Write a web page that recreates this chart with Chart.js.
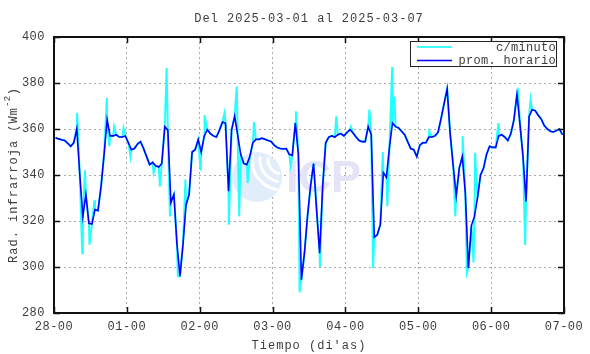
<!DOCTYPE html>
<html>
<head>
<meta charset="utf-8">
<title>Rad. infrarroja</title>
<script src="https://cdn.jsdelivr.net/npm/chart.js@4/dist/chart.umd.min.js"></script>
<style>
  body { margin: 0; background: #fff; }
  canvas { display: block; }
</style>
</head>
<body>
<canvas id="irChart" width="590" height="354"></canvas>
<script>
// hourly means (prom. horario), one per hour, plotted at the middle of the hour
const hourly = [
  356.2, 355.7, 355.3, 355, 353.8, 352.5, 354, 360, 340, 322, 331.5, 319,
  318.7, 325, 324.5, 335, 349, 364, 357, 357, 357.5, 356.5, 356.5, 357,
  354, 351, 351.5, 353.5, 354.5, 351.5, 348, 344.5, 345.5, 344, 343.5, 345,
  361, 359.5, 328, 331.5, 310, 296, 310, 327, 331.5, 350, 351, 355.4,
  350, 357, 359.7, 358, 357, 356.5, 359.5, 363, 362.5, 333, 359.5, 365.5,
  357.5, 349, 345, 344.5, 348, 354, 355.5, 355.5, 356, 355.5, 355, 354.6,
  353, 352, 351.5, 351.3, 351.5, 349, 348.5, 362.6, 349, 294.5, 306, 322,
  335, 345, 325, 306, 335, 354, 356.5, 357, 356.5, 357.5, 358, 357,
  358.5, 359.7, 358.3, 356.5, 355, 354.5, 354.5, 361, 357.5, 313, 314, 318.5,
  341, 339, 352, 362.6, 361, 360.5, 359, 357.5, 354.5, 351.5, 351, 348,
  353, 354, 354, 356.5, 356.5, 357, 358.5, 364.5, 371, 377.4, 358, 344,
  331, 343, 348, 332, 299.6, 318, 322, 330, 340, 343, 349, 352.5,
  352, 352, 357, 357.5, 356.5, 355, 358, 364, 375, 362, 348, 328.5,
  365.5, 368.4, 368, 366, 364.3, 361.5, 360, 359, 358.7, 359.3, 360, 357.5
];

// minute readings that stand out from the hourly curve (hours since 28-00)
const spikeHours = [
  7.6, 9.3, 10.2, 11.7, 13.3, 17.4, 18.2, 19.8, 22.9, 25.2, 32.8, 34.9,
  37.1, 38.2, 40.8, 43.3, 48.3, 49.6, 56.2, 57.6, 60.2, 61, 63.8, 65.9,
  78, 79.7, 80.9, 87.6, 93, 97.8, 103.9, 105.1, 108.3, 109.8, 111.4, 112.2,
  123.6, 132.2, 134.6, 136, 138.2, 138.7, 146.4, 152.9, 155.2, 157
];
const spikeValues = [
  367, 306, 342, 309.7, 329, 373.5, 352.5, 361, 360.5, 348, 341, 335,
  386.5, 322, 296, 338, 342, 366, 367, 318.4, 378.5, 322, 336.5, 363,
  344, 367.7, 289, 300, 365.5, 361, 368.4, 299.6, 350, 326.4, 387, 374,
  359, 322, 357, 297.4, 302, 349.6, 362.6, 376.4, 309.6, 372.8
];

const dayLabels = ['28-00', '01-00', '02-00', '03-00', '04-00', '05-00', '06-00', '07-00'];
const yTicks = [280, 300, 320, 340, 360, 380, 400];

const MONO = "'Liberation Mono', 'DejaVu Sans Mono', monospace";
const TEXT = '#3c3c3c';

const hourlyPts = hourly.map((v, i) => ({ x: i + 0.5, y: v }));
const minutePts = hourlyPts
  .concat(spikeHours.map((h, i) => ({ x: h, y: spikeValues[i] })))
  .sort((a, b) => a.x - b.x);

// gnuplot-like frame, inner ticks, titles, legend and the faint logo
const decorations = {
  id: 'decorations',
  beforeDraw(chart) {
    chart.ctx.letterSpacing = '0.5px';
  },
  beforeDatasetsDraw(chart) {
    const ctx = chart.ctx;
    ctx.save();
    // watermark
    ctx.fillStyle = '#e2edfb';
    ctx.beginPath();
    ctx.arc(257, 177, 25, 0, Math.PI * 2);
    ctx.fill();
    ctx.strokeStyle = '#ffffff';
    ctx.lineWidth = 3;
    [14, 22, 30].forEach(r => {
      ctx.beginPath();
      ctx.arc(282, 160, r, Math.PI * 0.55, Math.PI * 1.05);
      ctx.stroke();
    });
    ctx.fillStyle = '#e4e4f6';
    ctx.font = "bold 45px 'Liberation Sans', sans-serif";
    ctx.letterSpacing = '0px';
    ctx.textBaseline = 'alphabetic';
    ctx.fillText('ICP', 286, 192);
    ctx.restore();
  },
  afterDatasetsDraw(chart) {
    const ctx = chart.ctx;
    const a = chart.chartArea;
    const xs = chart.scales.x, ys = chart.scales.y;
    ctx.save();
    ctx.strokeStyle = '#111';
    ctx.lineWidth = 1.5;
    ctx.beginPath();
    yTicks.forEach(v => {
      const y = Math.round(ys.getPixelForValue(v)) + 0.5;
      ctx.moveTo(a.left, y); ctx.lineTo(a.left + 6, y);
      ctx.moveTo(a.right, y); ctx.lineTo(a.right - 6, y);
    });
    dayLabels.forEach((d, i) => {
      const x = Math.round(xs.getPixelForValue(i * 24)) + 0.5;
      ctx.moveTo(x, a.top); ctx.lineTo(x, a.top + 6);
      ctx.moveTo(x, a.bottom); ctx.lineTo(x, a.bottom - 6);
    });
    ctx.stroke();
    ctx.lineWidth = 2;
    ctx.strokeRect(a.left, a.top, a.right - a.left, a.bottom - a.top);

    // titles
    ctx.fillStyle = TEXT;
    ctx.font = '12px ' + MONO;
    ctx.letterSpacing = '1px';
    ctx.textAlign = 'center';
    ctx.textBaseline = 'middle';
    const cx = (a.left + a.right) / 2;
    ctx.fillText('Del 2025-03-01 al 2025-03-07', cx, 19);
    ctx.fillText("Tiempo (di'as)", cx, 346);

    // y title with superscript
    ctx.save();
    ctx.translate(14, (a.top + a.bottom) / 2);
    ctx.rotate(-Math.PI / 2);
    const main = 'Rad. infrarroja (Wm';
    ctx.font = '12px ' + MONO;
    const w1 = ctx.measureText(main).width;
    ctx.font = '9px ' + MONO;
    ctx.letterSpacing = '0.5px';
    const w2 = ctx.measureText('-2').width;
    ctx.font = '12px ' + MONO;
    ctx.letterSpacing = '1px';
    const w3 = ctx.measureText(')').width;
    let x0 = -(w1 + w2 + w3) / 2;
    ctx.textAlign = 'left';
    ctx.fillText(main, x0, 0);
    ctx.font = '9px ' + MONO;
    ctx.letterSpacing = '0.5px';
    ctx.fillText('-2', x0 + w1, -6);
    ctx.font = '12px ' + MONO;
    ctx.letterSpacing = '1px';
    ctx.fillText(')', x0 + w1 + w2, 0);
    ctx.restore();

    // legend
    ctx.fillStyle = '#fff';
    ctx.fillRect(410, 41, 146, 25);
    ctx.strokeStyle = '#222';
    ctx.lineWidth = 1;
    ctx.strokeRect(410.5, 41.5, 146, 25);
    ctx.strokeStyle = '#00ffff';
    ctx.lineWidth = 1.5;
    ctx.beginPath(); ctx.moveTo(417, 47); ctx.lineTo(452, 47); ctx.stroke();
    ctx.strokeStyle = '#0000ff';
    ctx.lineWidth = 1.5;
    ctx.beginPath(); ctx.moveTo(417, 60.5); ctx.lineTo(452, 60.5); ctx.stroke();
    ctx.fillStyle = TEXT;
    ctx.font = '12px ' + MONO;
    ctx.letterSpacing = '0.3px';
    ctx.textAlign = 'right';
    ctx.fillText('c/minuto', 556, 48);
    ctx.fillText('prom. horario', 556, 61);
    ctx.restore();
  }
};

new Chart(document.getElementById('irChart'), {
  type: 'line',
  data: {
    datasets: [
      {
        label: 'c/minuto',
        data: minutePts,
        borderColor: '#22ffff',
        borderWidth: 2,
        pointRadius: 0,
        tension: 0,
        order: 2
      },
      {
        label: 'prom. horario',
        data: hourlyPts,
        borderColor: '#0000ff',
        borderWidth: 1.6,
        pointRadius: 0,
        tension: 0,
        order: 1
      }
    ]
  },
  options: {
    responsive: false,
    animation: false,
    devicePixelRatio: 1,
    layout: { padding: { top: 37, right: 26, left: 0, bottom: 0 } },
    plugins: {
      legend: { display: false },
      tooltip: { enabled: false }
    },
    scales: {
      x: {
        type: 'linear',
        min: 0,
        max: 168,
        afterFit: s => { s.height = 41; },
        afterBuildTicks: s => { s.ticks = dayLabels.map((d, i) => ({ value: i * 24 })); },
        ticks: {
          autoSkip: false,
          maxRotation: 0,
          padding: 7,
          color: TEXT,
          font: { family: MONO, size: 12 },
          callback: v => dayLabels[Math.round(v / 24)]
        },
        grid: { color: '#aaa', lineWidth: 1, drawTicks: false },
        border: { display: false, dash: [2, 3] }
      },
      y: {
        min: 280,
        max: 400,
        afterFit: s => { s.width = 54; },
        afterBuildTicks: s => { s.ticks = yTicks.map(v => ({ value: v })); },
        ticks: {
          padding: 9,
          color: TEXT,
          font: { family: MONO, size: 12 }
        },
        grid: { color: '#aaa', lineWidth: 1, drawTicks: false },
        border: { display: false, dash: [2, 3] }
      }
    }
  },
  plugins: [decorations]
});
</script>
</body>
</html>
